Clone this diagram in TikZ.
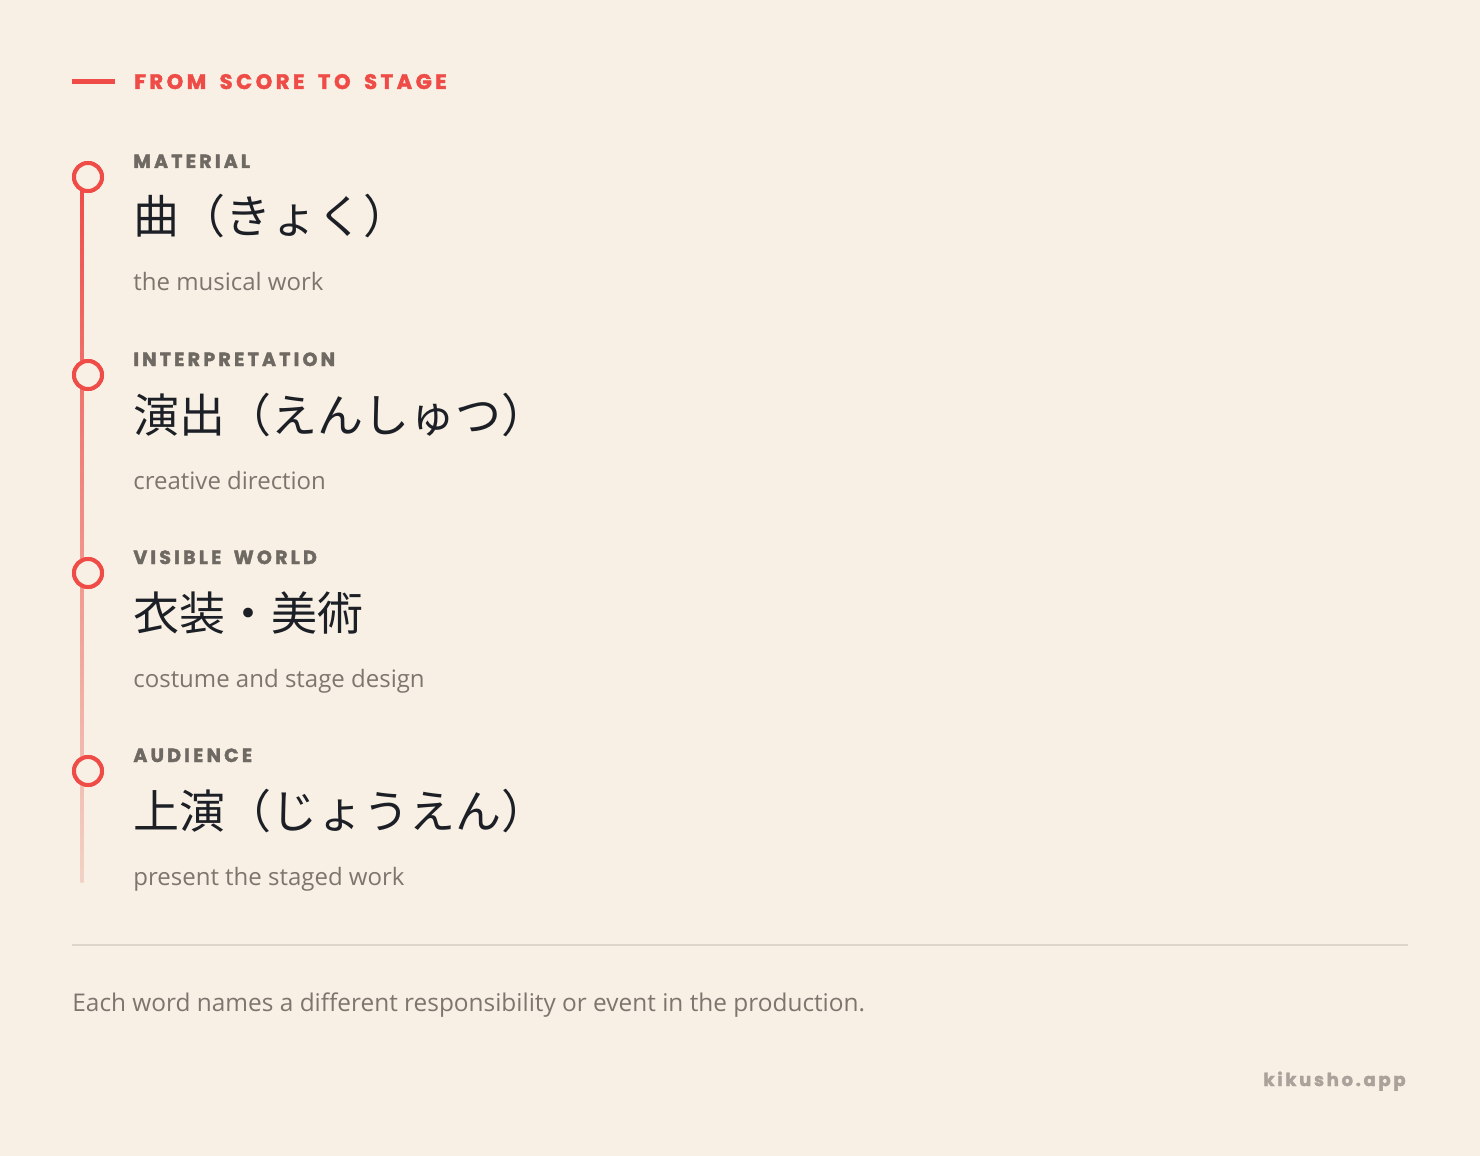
\documentclass[tikz,border=0pt]{standalone}
\usepackage{fontspec}
\setmainfont{Open Sans}
\newfontfamily\capsfont{Poppins}[LetterSpace=17,WordSpace=1.7,BoldFeatures={FakeBold=2}]
\newfontfamily\urlfont{Poppins}[LetterSpace=15,BoldFeatures={FakeBold=2}]
\newfontfamily\jpfont{Noto Sans CJK JP}

\definecolor{paper}{HTML}{F8F0E4}
\definecolor{accent}{HTML}{EF4B47}
\definecolor{accentpale}{HTML}{F2D2C6}
\definecolor{labelgray}{HTML}{6E6962}
\definecolor{bodygray}{HTML}{7D766F}
\definecolor{urlgray}{HTML}{ABA39B}
\definecolor{rulegray}{HTML}{DDD5CA}
\definecolor{inkdark}{HTML}{1C2026}

\begin{document}
\begin{tikzpicture}[x=0.5pt,y=-0.5pt,
    kicker/.style={anchor=base west,inner sep=0pt,text=labelgray,
      font=\capsfont\bfseries\fontsize{9.5}{10}\selectfont},
    term/.style={anchor=base west,inner sep=0pt,text=inkdark,
      font=\jpfont\fontsize{23}{24}\selectfont},
    gloss/.style={anchor=base west,inner sep=0pt,text=bodygray,
      font=\fontsize{12}{14}\selectfont},
    stop/.style={circle,draw=accent,line width=2pt,fill=paper,
      minimum size=14pt,inner sep=0pt}]
    % page
    \fill[paper] (0,0) rectangle (1480,1156);
    \useasboundingbox (0,0) rectangle (1480,1156);

    % heading
    \coordinate (dashL) at (72,82);
    \coordinate (dashR) at (115,82);
    \draw[accent,line width=2.5pt] (dashL) -- (dashR);
    \node[anchor=base west,inner sep=0pt,text=accent,
      font=\capsfont\bfseries\fontsize{10.5}{11}\selectfont] (title) at (134,89) {FROM SCORE TO STAGE};

    % timeline
    \node[stop] (s1) at (88,177) {};
    \node[stop] (s2) at (88,375) {};
    \node[stop] (s3) at (88,573) {};
    \node[stop] (s4) at (88,771) {};
    \coordinate (tlend) at (88,882);
    \shade[top color=accent,bottom color=accentpale]
      ([xshift=-3.75pt]s1.center) rectangle ([xshift=-2.25pt]tlend);
    \foreach \s in {s1,s2,s3,s4}
      \node[stop] at (\s) {};

    % stages
    \node[kicker] (k1) at (133,168) {MATERIAL};
    \node[term]   (t1) at (133,234) {曲（きょく）};
    \node[gloss]  (g1) at (133,291) {the musical work};

    \node[kicker] (k2) at (133,366) {INTERPRETATION};
    \node[term]   (t2) at (133,432) {演出（えんしゅつ）};
    \node[gloss]  (g2) at (133,489) {creative direction};

    \node[kicker] (k3) at (133,564) {VISIBLE WORLD};
    \node[term]   (t3) at (133,630) {衣装・美術};
    \node[gloss]  (g3) at (133,687) {costume and stage design};

    \node[kicker] (k4) at (133,762) {AUDIENCE};
    \node[term]   (t4) at (133,828) {上演（じょうえん）};
    \node[gloss]  (g4) at (133,885) {present the staged work};

    % footer
    \coordinate (ruleL) at (72,945);
    \coordinate (ruleR) at (1408,945);
    \draw[rulegray,line width=1pt] (ruleL) -- (ruleR);
    \node[anchor=base west,inner sep=0pt,text=bodygray,
      font=\fontsize{12.2}{14}\selectfont] (note) at (72,1011)
      {Each word names a different responsibility or event in the production.};
    \node[anchor=base east,inner sep=0pt,text=urlgray,
      font=\urlfont\bfseries\fontsize{9}{10}\selectfont] (site) at (1406,1086) {kikusho.app};
\end{tikzpicture}
\end{document}
